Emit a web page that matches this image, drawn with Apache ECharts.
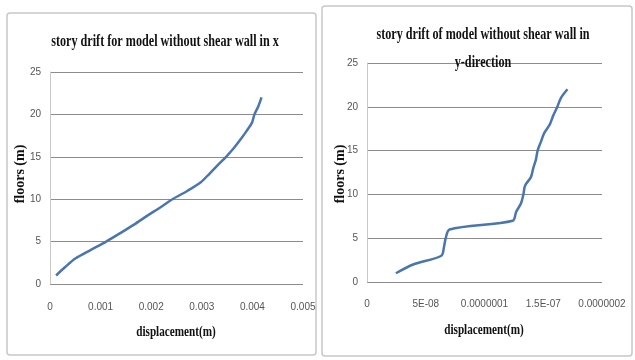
<!DOCTYPE html>
<html><head><meta charset="utf-8">
<script src="https://cdn.jsdelivr.net/npm/echarts@6/dist/echarts.min.js"></script>
<style>html,body{margin:0;padding:0;background:#fff}#c{width:635px;height:360px}</style>
</head><body><div id="c"></div>
<script>
// ---- data ----
const floors = [1,2,3,4,5,6,7,8,9,10,11,12,13,14,15,16,17,18,19,20,21,22];
const dispX = [0.00012,0.0003,0.0005,0.0008,0.00111,0.00139,0.00166,0.00191,0.00217,0.00242,0.00272,0.00298,0.00315,0.00331,0.00348,0.00363,0.00376,0.00388,0.00399,0.00404,0.00412,0.00418];
const dispY = [2.46e-8,3.93e-8,6.33e-8,6.55e-8,6.7e-8,7.03e-8,1.24e-7,1.269e-7,1.311e-7,1.331e-7,1.345e-7,1.396e-7,1.415e-7,1.438e-7,1.452e-7,1.48e-7,1.508e-7,1.556e-7,1.585e-7,1.62e-7,1.65e-7,1.706e-7];
const yTicks = ['0','5','10','15','20','25'];
const xTicksLeft = ['0','0.001','0.002','0.003','0.004','0.005'];
const xTicksRight = ['0','5E-08','0.0000001','1.5E-07','0.0000002'];
const titleLeft = 'story drift for model without shear wall in x';
const titleRight1 = 'story drift of model without shear wall in';
const titleRight2 = 'y-direction';
const xName = 'displacement(m)';
const yName = 'floors (m)';

const chart = echarts.init(document.getElementById('c'));
const lineColor = '#4a76ae';
const serifBold = 'bold 16px "Liberation Serif", "DejaVu Serif", serif';
function yAxis(gi){
  return {type:'value', gridIndex:gi, min:0, max:25, interval:5,
    axisLine:{show:true, lineStyle:{color:'#c8c8c8', width:1}},
    axisTick:{show:false},
    splitLine:{show:true, lineStyle:{color:'#8c8c8c', width:1}},
    axisLabel:{margin:9, color:'#555', fontSize:10, fontFamily:'Liberation Sans',
      formatter:(v)=>yTicks[Math.round(v/5)]}};
}
chart.setOption({
  animation:false,
  grid:[{left:50, top:72, width:253, height:212},{left:367, top:63, width:235, height:219}],
  xAxis:[
    {type:'value', gridIndex:0, min:0, max:0.005, interval:0.001,
     axisLine:{show:false}, axisTick:{show:false}, splitLine:{show:false},
     axisLabel:{margin:18, color:'#555', fontSize:10, fontFamily:'Liberation Sans',
       formatter:(v)=>xTicksLeft[Math.round(v/0.001)]}},
    {type:'value', gridIndex:1, min:0, max:2e-7, interval:5e-8,
     axisLine:{show:false}, axisTick:{show:false}, splitLine:{show:false},
     axisLabel:{margin:17, color:'#555', fontSize:10, fontFamily:'Liberation Sans',
       formatter:(v)=>xTicksRight[Math.round(v/5e-8)]}}
  ],
  yAxis:[yAxis(0), yAxis(1)],
  series:[
    {type:'line', xAxisIndex:0, yAxisIndex:0, data:floors.map((f,i)=>[dispX[i],f]),
     smooth:0.3, showSymbol:false, lineStyle:{color:lineColor, width:2.5}},
    {type:'line', xAxisIndex:1, yAxisIndex:1, data:floors.map((f,i)=>[dispY[i],f]),
     smooth:0.3, showSymbol:false, lineStyle:{color:lineColor, width:2.5}}
  ],
  graphic:[
    {type:'rect', shape:{x:7, y:13, width:309, height:342, r:3}, style:{fill:'none', stroke:'#c8c8c8', lineWidth:1.5}, z:-1},
    {type:'rect', shape:{x:322, y:6, width:310, height:350, r:3}, style:{fill:'none', stroke:'#c8c8c8', lineWidth:1.5}, z:-1},
    {type:'text', x:165, y:42, scaleX:0.76, style:{text:titleLeft, font:serifBold, fill:'#111', textAlign:'center', textVerticalAlign:'middle'}},
    {type:'text', x:483, y:35, scaleX:0.76, style:{text:titleRight1, font:serifBold, fill:'#111', textAlign:'center', textVerticalAlign:'middle'}},
    {type:'text', x:483, y:63, scaleX:0.76, style:{text:titleRight2, font:serifBold, fill:'#111', textAlign:'center', textVerticalAlign:'middle'}, z:10},
    {type:'text', x:176, y:332, scaleX:0.8, style:{text:xName, font:'bold 14px "Liberation Serif", serif', fill:'#111', textAlign:'center', textVerticalAlign:'middle'}},
    {type:'text', x:484, y:330, scaleX:0.8, style:{text:xName, font:'bold 14px "Liberation Serif", serif', fill:'#111', textAlign:'center', textVerticalAlign:'middle'}},
    {type:'text', x:20, y:174, rotation:Math.PI/2, style:{text:yName, font:'bold 14px "Liberation Serif", serif', fill:'#111', textAlign:'center', textVerticalAlign:'middle'}},
    {type:'text', x:340, y:174, rotation:Math.PI/2, style:{text:yName, font:'bold 14px "Liberation Serif", serif', fill:'#111', textAlign:'center', textVerticalAlign:'middle'}}
  ]
});
</script></body></html>
